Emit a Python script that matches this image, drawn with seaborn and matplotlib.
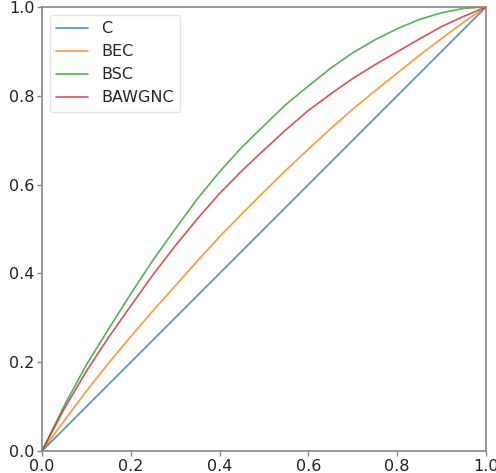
import numpy as np
import pandas as pd
import seaborn as sns
import matplotlib.pyplot as plt

x_vals = [0.0, 0.05, 0.1, 0.15, 0.2, 0.25, 0.3, 0.35, 0.4, 0.45, 0.5,
          0.55, 0.6, 0.65, 0.7, 0.75, 0.8, 0.85, 0.9, 0.95, 1.0]
c_vals = [0.0, 0.05, 0.1, 0.15, 0.2, 0.25, 0.3, 0.35, 0.4, 0.45, 0.5,
          0.55, 0.6, 0.65, 0.7, 0.75, 0.8, 0.85, 0.9, 0.95, 1.0]
bec_vals = [0.0, 0.068, 0.135, 0.198, 0.258, 0.316, 0.372, 0.428, 0.483, 0.534, 0.584,
            0.633, 0.680, 0.726, 0.770, 0.811, 0.851, 0.891, 0.929, 0.966, 1.0]
bsc_vals = [0.0, 0.102, 0.194, 0.275, 0.354, 0.430, 0.500, 0.568, 0.629, 0.684, 0.733,
            0.781, 0.822, 0.862, 0.897, 0.926, 0.951, 0.972, 0.987, 0.997, 1.0]
bawgnc_vals = [0.0, 0.095, 0.180, 0.256, 0.327, 0.397, 0.462, 0.523, 0.580, 0.631, 0.678,
               0.724, 0.767, 0.804, 0.839, 0.870, 0.899, 0.928, 0.956, 0.979, 1.0]
labels = ["C", "BEC", "BSC", "BAWGNC"]

df = pd.DataFrame({
    "x": x_vals * 4,
    "y": c_vals + bec_vals + bsc_vals + bawgnc_vals,
    "channel": [lab for lab in labels for _ in x_vals],
})

sns.set_style("white")
fig = plt.figure(figsize=(4.96, 4.73), dpi=100)
ax = fig.add_axes([42 / 496, 22 / 473, 444 / 496, 444 / 473])

sns.lineplot(data=df, x="x", y="y", hue="channel", hue_order=labels,
             palette=sns.color_palette("tab10", 4), linewidth=1.2, alpha=0.8, ax=ax)

ax.set_xlim(0, 1)
ax.set_ylim(0, 1)
ax.set_xlabel("")
ax.set_ylabel("")
ax.set_xticks([0, 0.2, 0.4, 0.6, 0.8, 1.0])
ax.set_yticks([0, 0.2, 0.4, 0.6, 0.8, 1.0])
for s in ax.spines.values():
    s.set_color("#888888")
    s.set_linewidth(1.2)
ax.tick_params(axis="both", which="major", direction="out", length=3.5, width=1,
               color="#888888", left=True, bottom=True, labelsize=11.5, pad=2,
               labelcolor="#222222")

leg = ax.legend(loc="upper left", fontsize=11.5, frameon=True)
leg.get_frame().set_edgecolor("#dddddd")
for line in leg.get_lines():
    line.set_alpha(0.8)

fig.savefig("out.png", dpi=100)
